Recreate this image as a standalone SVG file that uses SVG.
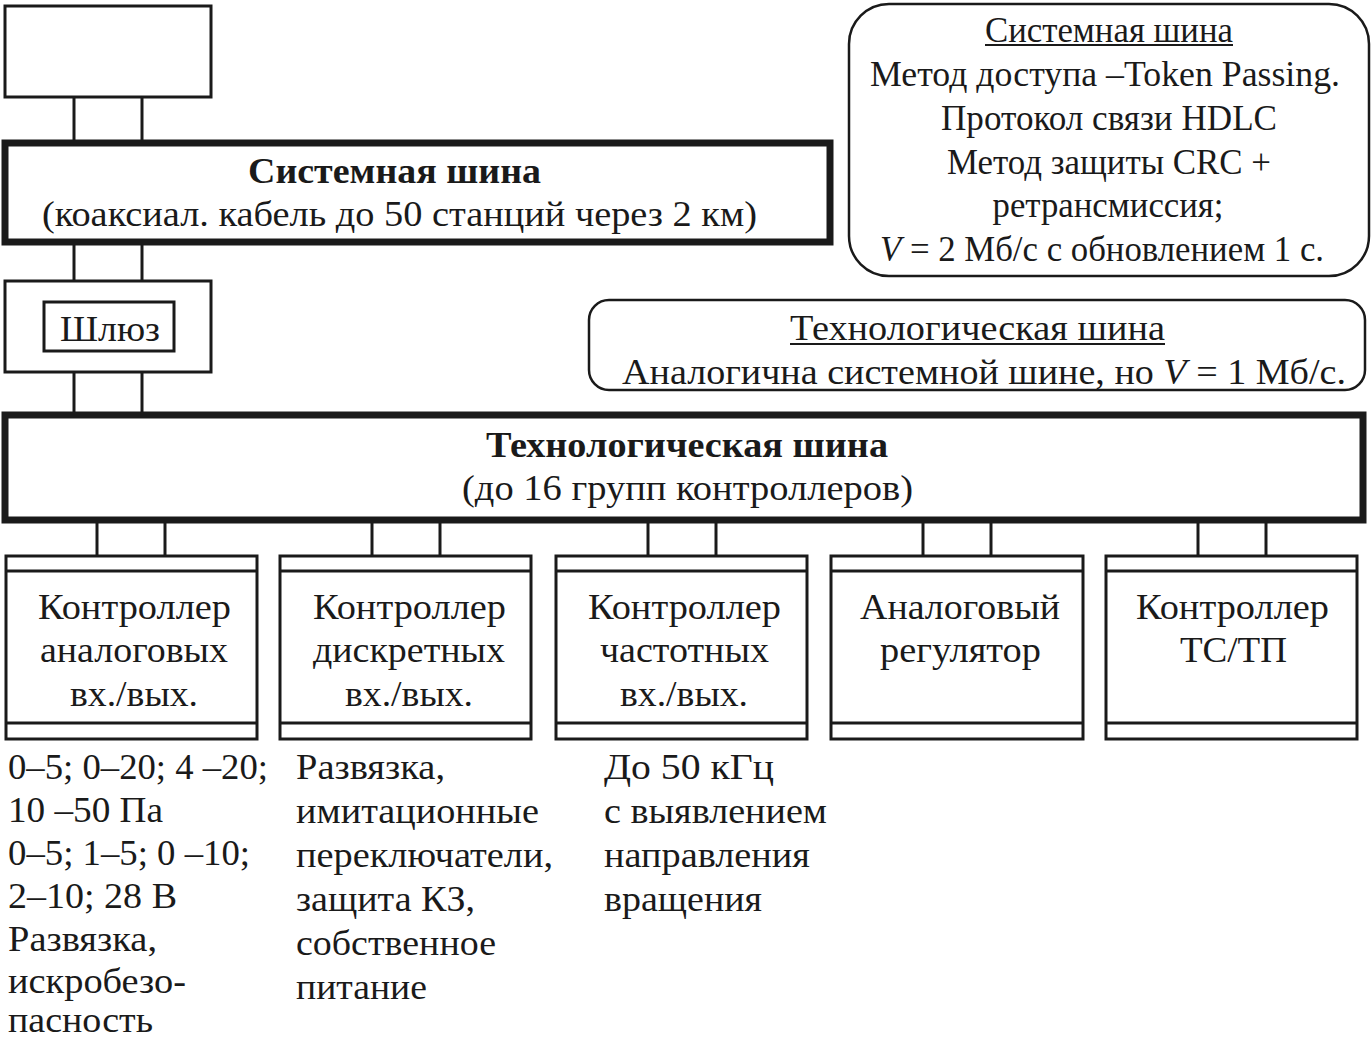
<svg xmlns="http://www.w3.org/2000/svg" width="1372" height="1041" viewBox="0 0 1372 1041">
<style>
text{font-family:"Liberation Serif","Times New Roman",serif;font-size:36px;fill:#1a1a1a}
.b{font-weight:bold}
.c{text-anchor:middle}
.s{font-size:35px}
.box{fill:#fff;stroke:#1a1a1a;stroke-width:3}
.bus{fill:#fff;stroke:#1a1a1a;stroke-width:7}
.rb{fill:#fff;stroke:#1a1a1a;stroke-width:2.5}
.ln{stroke:#1a1a1a;stroke-width:3;fill:none}
.ul{stroke:#1a1a1a;stroke-width:2}
</style>
<g id="connectors">
<line class="ln" x1="74" y1="97" x2="74" y2="142"/><line class="ln" x1="142" y1="97" x2="142" y2="142"/>
<line class="ln" x1="74" y1="243" x2="74" y2="281"/><line class="ln" x1="142" y1="243" x2="142" y2="281"/>
<line class="ln" x1="74" y1="372" x2="74" y2="414"/><line class="ln" x1="142" y1="372" x2="142" y2="414"/>
<line class="ln" x1="97" y1="521" x2="97" y2="556"/><line class="ln" x1="165" y1="521" x2="165" y2="556"/>
<line class="ln" x1="372" y1="521" x2="372" y2="556"/><line class="ln" x1="440" y1="521" x2="440" y2="556"/>
<line class="ln" x1="648" y1="521" x2="648" y2="556"/><line class="ln" x1="716" y1="521" x2="716" y2="556"/>
<line class="ln" x1="923" y1="521" x2="923" y2="556"/><line class="ln" x1="991" y1="521" x2="991" y2="556"/>
<line class="ln" x1="1198" y1="521" x2="1198" y2="556"/><line class="ln" x1="1266" y1="521" x2="1266" y2="556"/>
</g>
<g id="top-box"><rect class="box" x="5" y="6" width="206" height="91"/></g>
<g id="system-bus">
<rect class="bus" x="5" y="143" width="825" height="99"/>
<text class="b c" x="394.5" y="183" textLength="293" lengthAdjust="spacingAndGlyphs">Системная шина</text>
<text class="c" x="399.5" y="226" textLength="715" lengthAdjust="spacingAndGlyphs">(коаксиал. кабель до 50 станций через 2 км)</text>
</g>
<g id="gateway">
<rect class="box" x="5" y="281" width="206" height="91"/>
<rect class="box" x="44" y="302" width="130" height="49"/>
<text class="c" x="110" y="341" textLength="100" lengthAdjust="spacingAndGlyphs">Шлюз</text>
</g>
<g id="tech-bus">
<rect class="bus" x="5" y="415" width="1358" height="105"/>
<text class="b c" x="687" y="457" textLength="402" lengthAdjust="spacingAndGlyphs">Технологическая шина</text>
<text class="c" x="687.5" y="500" textLength="451" lengthAdjust="spacingAndGlyphs">(до 16 групп контроллеров)</text>
</g>
<g id="sys-note">
<rect class="rb" x="849" y="4" width="520" height="272" rx="40"/>
<text class="c" x="1109" y="42" textLength="248" lengthAdjust="spacingAndGlyphs">Системная шина</text>
<line class="ul" x1="985" y1="45" x2="1233" y2="45"/>
<text class="c" x="1105" y="86" textLength="470" lengthAdjust="spacingAndGlyphs">Метод доступа –Token Passing.</text>
<text class="c" x="1109" y="130" textLength="336" lengthAdjust="spacingAndGlyphs">Протокол связи HDLC</text>
<text class="c" x="1109" y="174" textLength="324" lengthAdjust="spacingAndGlyphs">Метод защиты CRC +</text>
<text class="c" x="1108" y="217" textLength="231" lengthAdjust="spacingAndGlyphs">ретрансмиссия;</text>
<text class="c" x="1102" y="261" textLength="444" lengthAdjust="spacingAndGlyphs"><tspan font-style="italic">V</tspan> = 2 Мб/с с обновлением 1 с.</text>
</g>
<g id="tech-note">
<rect class="rb" x="589" y="300" width="776" height="90" rx="20"/>
<text class="c" x="977.5" y="340" textLength="375" lengthAdjust="spacingAndGlyphs">Технологическая шина</text>
<line class="ul" x1="790" y1="344" x2="1165" y2="344"/>
<text class="c" x="984" y="384" textLength="724" lengthAdjust="spacingAndGlyphs">Аналогична системной шине, но <tspan font-style="italic">V</tspan> = 1 Мб/с.</text>
</g>
<g id="ctrl-analog">
<rect class="box" x="6" y="556" width="251" height="183"/>
<line class="ln" x1="6" y1="571" x2="257" y2="571"/><line class="ln" x1="6" y1="723" x2="257" y2="723"/>
<text class="c" x="134.5" y="619" textLength="193" lengthAdjust="spacingAndGlyphs">Контроллер</text>
<text class="c" x="134" y="662" textLength="188" lengthAdjust="spacingAndGlyphs">аналоговых</text>
<text class="c" x="134" y="706" textLength="128" lengthAdjust="spacingAndGlyphs">вх./вых.</text>
</g>
<g id="ctrl-discrete">
<rect class="box" x="280" y="556" width="251" height="183"/>
<line class="ln" x1="280" y1="571" x2="531" y2="571"/><line class="ln" x1="280" y1="723" x2="531" y2="723"/>
<text class="c" x="409.5" y="619" textLength="193" lengthAdjust="spacingAndGlyphs">Контроллер</text>
<text class="c" x="409" y="662" textLength="192" lengthAdjust="spacingAndGlyphs">дискретных</text>
<text class="c" x="409" y="706" textLength="128" lengthAdjust="spacingAndGlyphs">вх./вых.</text>
</g>
<g id="ctrl-freq">
<rect class="box" x="556" y="556" width="251" height="183"/>
<line class="ln" x1="556" y1="571" x2="807" y2="571"/><line class="ln" x1="556" y1="723" x2="807" y2="723"/>
<text class="c" x="684.5" y="619" textLength="193" lengthAdjust="spacingAndGlyphs">Контроллер</text>
<text class="c" x="684.5" y="662" textLength="169" lengthAdjust="spacingAndGlyphs">частотных</text>
<text class="c" x="684" y="706" textLength="128" lengthAdjust="spacingAndGlyphs">вх./вых.</text>
</g>
<g id="analog-reg">
<rect class="box" x="831" y="556" width="252" height="183"/>
<line class="ln" x1="831" y1="571" x2="1083" y2="571"/><line class="ln" x1="831" y1="723" x2="1083" y2="723"/>
<text class="c" x="960" y="619" textLength="200" lengthAdjust="spacingAndGlyphs">Аналоговый</text>
<text class="c" x="960.5" y="662" textLength="161" lengthAdjust="spacingAndGlyphs">регулятор</text>
</g>
<g id="ctrl-tstp">
<rect class="box" x="1106" y="556" width="251" height="183"/>
<line class="ln" x1="1106" y1="571" x2="1357" y2="571"/><line class="ln" x1="1106" y1="723" x2="1357" y2="723"/>
<text class="c" x="1232.5" y="619" textLength="193" lengthAdjust="spacingAndGlyphs">Контроллер</text>
<text class="c" x="1233.5" y="662" textLength="107" lengthAdjust="spacingAndGlyphs">ТС/ТП</text>
</g>
<g id="notes-analog" class="s">
<text class="s" x="8" y="779" textLength="260" lengthAdjust="spacingAndGlyphs">0–5; 0–20; 4 –20;</text>
<text class="s" x="8" y="822" textLength="155" lengthAdjust="spacingAndGlyphs">10 –50 Па</text>
<text class="s" x="8" y="865" textLength="242" lengthAdjust="spacingAndGlyphs">0–5; 1–5; 0 –10;</text>
<text class="s" x="8" y="908" textLength="169" lengthAdjust="spacingAndGlyphs">2–10; 28 В</text>
<text class="s" x="8" y="951" textLength="149" lengthAdjust="spacingAndGlyphs">Развязка,</text>
<text class="s" x="8" y="993" textLength="178" lengthAdjust="spacingAndGlyphs">искробезо-</text>
<text class="s" x="8" y="1032" textLength="145" lengthAdjust="spacingAndGlyphs">пасность</text>
</g>
<g id="notes-discrete">
<text x="296" y="779" textLength="149" lengthAdjust="spacingAndGlyphs">Развязка,</text>
<text x="296" y="823" textLength="243" lengthAdjust="spacingAndGlyphs">имитационные</text>
<text x="296" y="867" textLength="257" lengthAdjust="spacingAndGlyphs">переключатели,</text>
<text x="296" y="911" textLength="179" lengthAdjust="spacingAndGlyphs">защита КЗ,</text>
<text x="296" y="955" textLength="200" lengthAdjust="spacingAndGlyphs">собственное</text>
<text x="296" y="999" textLength="131" lengthAdjust="spacingAndGlyphs">питание</text>
</g>
<g id="notes-freq">
<text x="604" y="779" textLength="170" lengthAdjust="spacingAndGlyphs">До 50  кГц</text>
<text x="604" y="823" textLength="223" lengthAdjust="spacingAndGlyphs">с выявлением</text>
<text x="604" y="867" textLength="206" lengthAdjust="spacingAndGlyphs">направления</text>
<text x="604" y="911" textLength="158" lengthAdjust="spacingAndGlyphs">вращения</text>
</g>
</svg>
